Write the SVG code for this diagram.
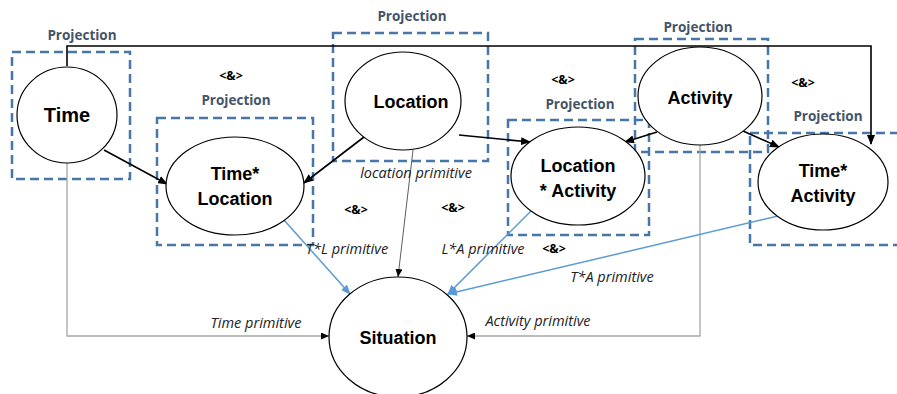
<svg xmlns="http://www.w3.org/2000/svg" width="897" height="394" viewBox="0 0 897 394">
<defs>
<style>
.node{fill:#fff;stroke:#000;stroke-width:1.2}
.box{fill:none;stroke:#4677a8;stroke-width:2.5;stroke-dasharray:9 5}
.lbl{font-family:"Liberation Sans",Arial,sans-serif;font-weight:bold;fill:#000;text-anchor:middle}
.proj{font-family:"Open Sans","Liberation Sans",sans-serif;font-weight:bold;font-size:13.5px;fill:#44546a;text-anchor:middle}
.amp{font-family:"Open Sans","Liberation Sans",sans-serif;font-weight:bold;font-size:12.5px;fill:#000;text-anchor:middle}
.prim{font-family:"Open Sans","Liberation Sans",sans-serif;font-style:italic;font-size:14.5px;fill:#222;text-anchor:middle}
.blk{fill:none;stroke:#000;stroke-width:1.6}
.thin{fill:none;stroke:#333;stroke-width:0.8}
.gray{fill:none;stroke:#a6a6a6;stroke-width:1.3}
.blue{fill:none;stroke:#5b9bd5;stroke-width:1.5}
</style>
<marker id="ab" markerWidth="10" markerHeight="8" refX="9" refY="4" orient="auto" markerUnits="userSpaceOnUse"><path d="M0,0 L10,4 L0,8 z" fill="#000"/></marker>
<marker id="as" markerWidth="8" markerHeight="7" refX="8" refY="3.5" orient="auto" markerUnits="userSpaceOnUse"><path d="M0,0 L8,3.5 L0,7 z" fill="#000"/></marker>
<marker id="abl" markerWidth="10" markerHeight="8" refX="9" refY="4" orient="auto" markerUnits="userSpaceOnUse"><path d="M0,0 L10,4 L0,8 z" fill="#5b9bd5"/></marker>
</defs>
<rect width="897" height="394" fill="#fff"/>

<g id="projection-boxes">
<rect class="box" x="12" y="52" width="118" height="127"/>
<rect class="box" x="333" y="33" width="155" height="128"/>
<rect class="box" x="157" y="118" width="156" height="127"/>
<rect class="box" x="508" y="120" width="141" height="115"/>
<rect class="box" x="635" y="39" width="133" height="113"/>
<rect class="box" x="750" y="133" width="160" height="112"/>
</g>

<g id="connectors">
<path class="blk" d="M67,66 V46 H871 V144" marker-end="url(#ab)"/>
<line class="blk" x1="104" y1="150" x2="167" y2="184" marker-end="url(#ab)"/>
<line class="blk" x1="364" y1="137" x2="304" y2="183" marker-end="url(#ab)"/>
<line class="blk" x1="459" y1="135" x2="530" y2="142" marker-end="url(#ab)"/>
<line class="blk" x1="657" y1="132" x2="625" y2="142" marker-end="url(#ab)"/>
<line class="blk" x1="743" y1="131" x2="779" y2="147" marker-end="url(#ab)"/>
<line class="thin" x1="413" y1="150" x2="398" y2="277" marker-end="url(#as)"/>
<path class="gray" d="M67,163 V336 H329" marker-end="url(#as)"/>
<path class="gray" d="M700,145 V336 H467" marker-end="url(#as)"/>
<line class="blue" x1="284" y1="220" x2="350" y2="294" marker-end="url(#abl)"/>
<line class="blue" x1="531" y1="211" x2="448" y2="294" marker-end="url(#abl)"/>
<line class="blue" x1="778" y1="216" x2="448" y2="294" marker-end="url(#abl)"/>
</g>

<g id="node-time">
<ellipse class="node" cx="67" cy="115" rx="50" ry="48"/>
<text class="lbl" x="67" y="122" font-size="20">Time</text>
</g>
<g id="node-location">
<ellipse class="node" cx="403" cy="101" rx="58" ry="49"/>
<text class="lbl" x="411" y="108" font-size="18">Location</text>
</g>
<g id="node-activity">
<ellipse class="node" cx="700" cy="96" rx="62" ry="49"/>
<text class="lbl" x="700" y="104" font-size="18">Activity</text>
</g>
<g id="node-time-location">
<ellipse class="node" cx="235" cy="186" rx="69" ry="49"/>
<text class="lbl" x="235" y="180" font-size="18">Time*</text>
<text class="lbl" x="235" y="205" font-size="18">Location</text>
</g>
<g id="node-location-activity">
<ellipse class="node" cx="578" cy="176" rx="67" ry="49"/>
<text class="lbl" x="578" y="172" font-size="18">Location</text>
<text class="lbl" x="578" y="197" font-size="18">* Activity</text>
</g>
<g id="node-time-activity">
<ellipse class="node" cx="823" cy="182" rx="65" ry="48"/>
<text class="lbl" x="823" y="177" font-size="18">Time*</text>
<text class="lbl" x="823" y="202" font-size="18">Activity</text>
</g>
<g id="node-situation">
<ellipse class="node" cx="398" cy="337" rx="69" ry="60"/>
<text class="lbl" x="398" y="344" font-size="18">Situation</text>
</g>

<g id="labels">
<text class="proj" x="82" y="40">Projection</text>
<text class="proj" x="412" y="21">Projection</text>
<text class="proj" x="698" y="32">Projection</text>
<text class="proj" x="236" y="105">Projection</text>
<text class="proj" x="580" y="109">Projection</text>
<text class="proj" x="828" y="121">Projection</text>
<text class="amp" x="231" y="80">&lt;&amp;&gt;</text>
<text class="amp" x="563" y="84">&lt;&amp;&gt;</text>
<text class="amp" x="803" y="87">&lt;&amp;&gt;</text>
<text class="amp" x="356" y="214">&lt;&amp;&gt;</text>
<text class="amp" x="453" y="212">&lt;&amp;&gt;</text>
<text class="amp" x="554" y="253">&lt;&amp;&gt;</text>
<text class="prim" x="416" y="178">location primitive</text>
<text class="prim" x="347" y="254">T*L primitive</text>
<text class="prim" x="483" y="254">L*A primitive</text>
<text class="prim" x="612" y="282">T*A primitive</text>
<text class="prim" x="256" y="328">Time primitive</text>
<text class="prim" x="538" y="326">Activity primitive</text>
</g>
</svg>
